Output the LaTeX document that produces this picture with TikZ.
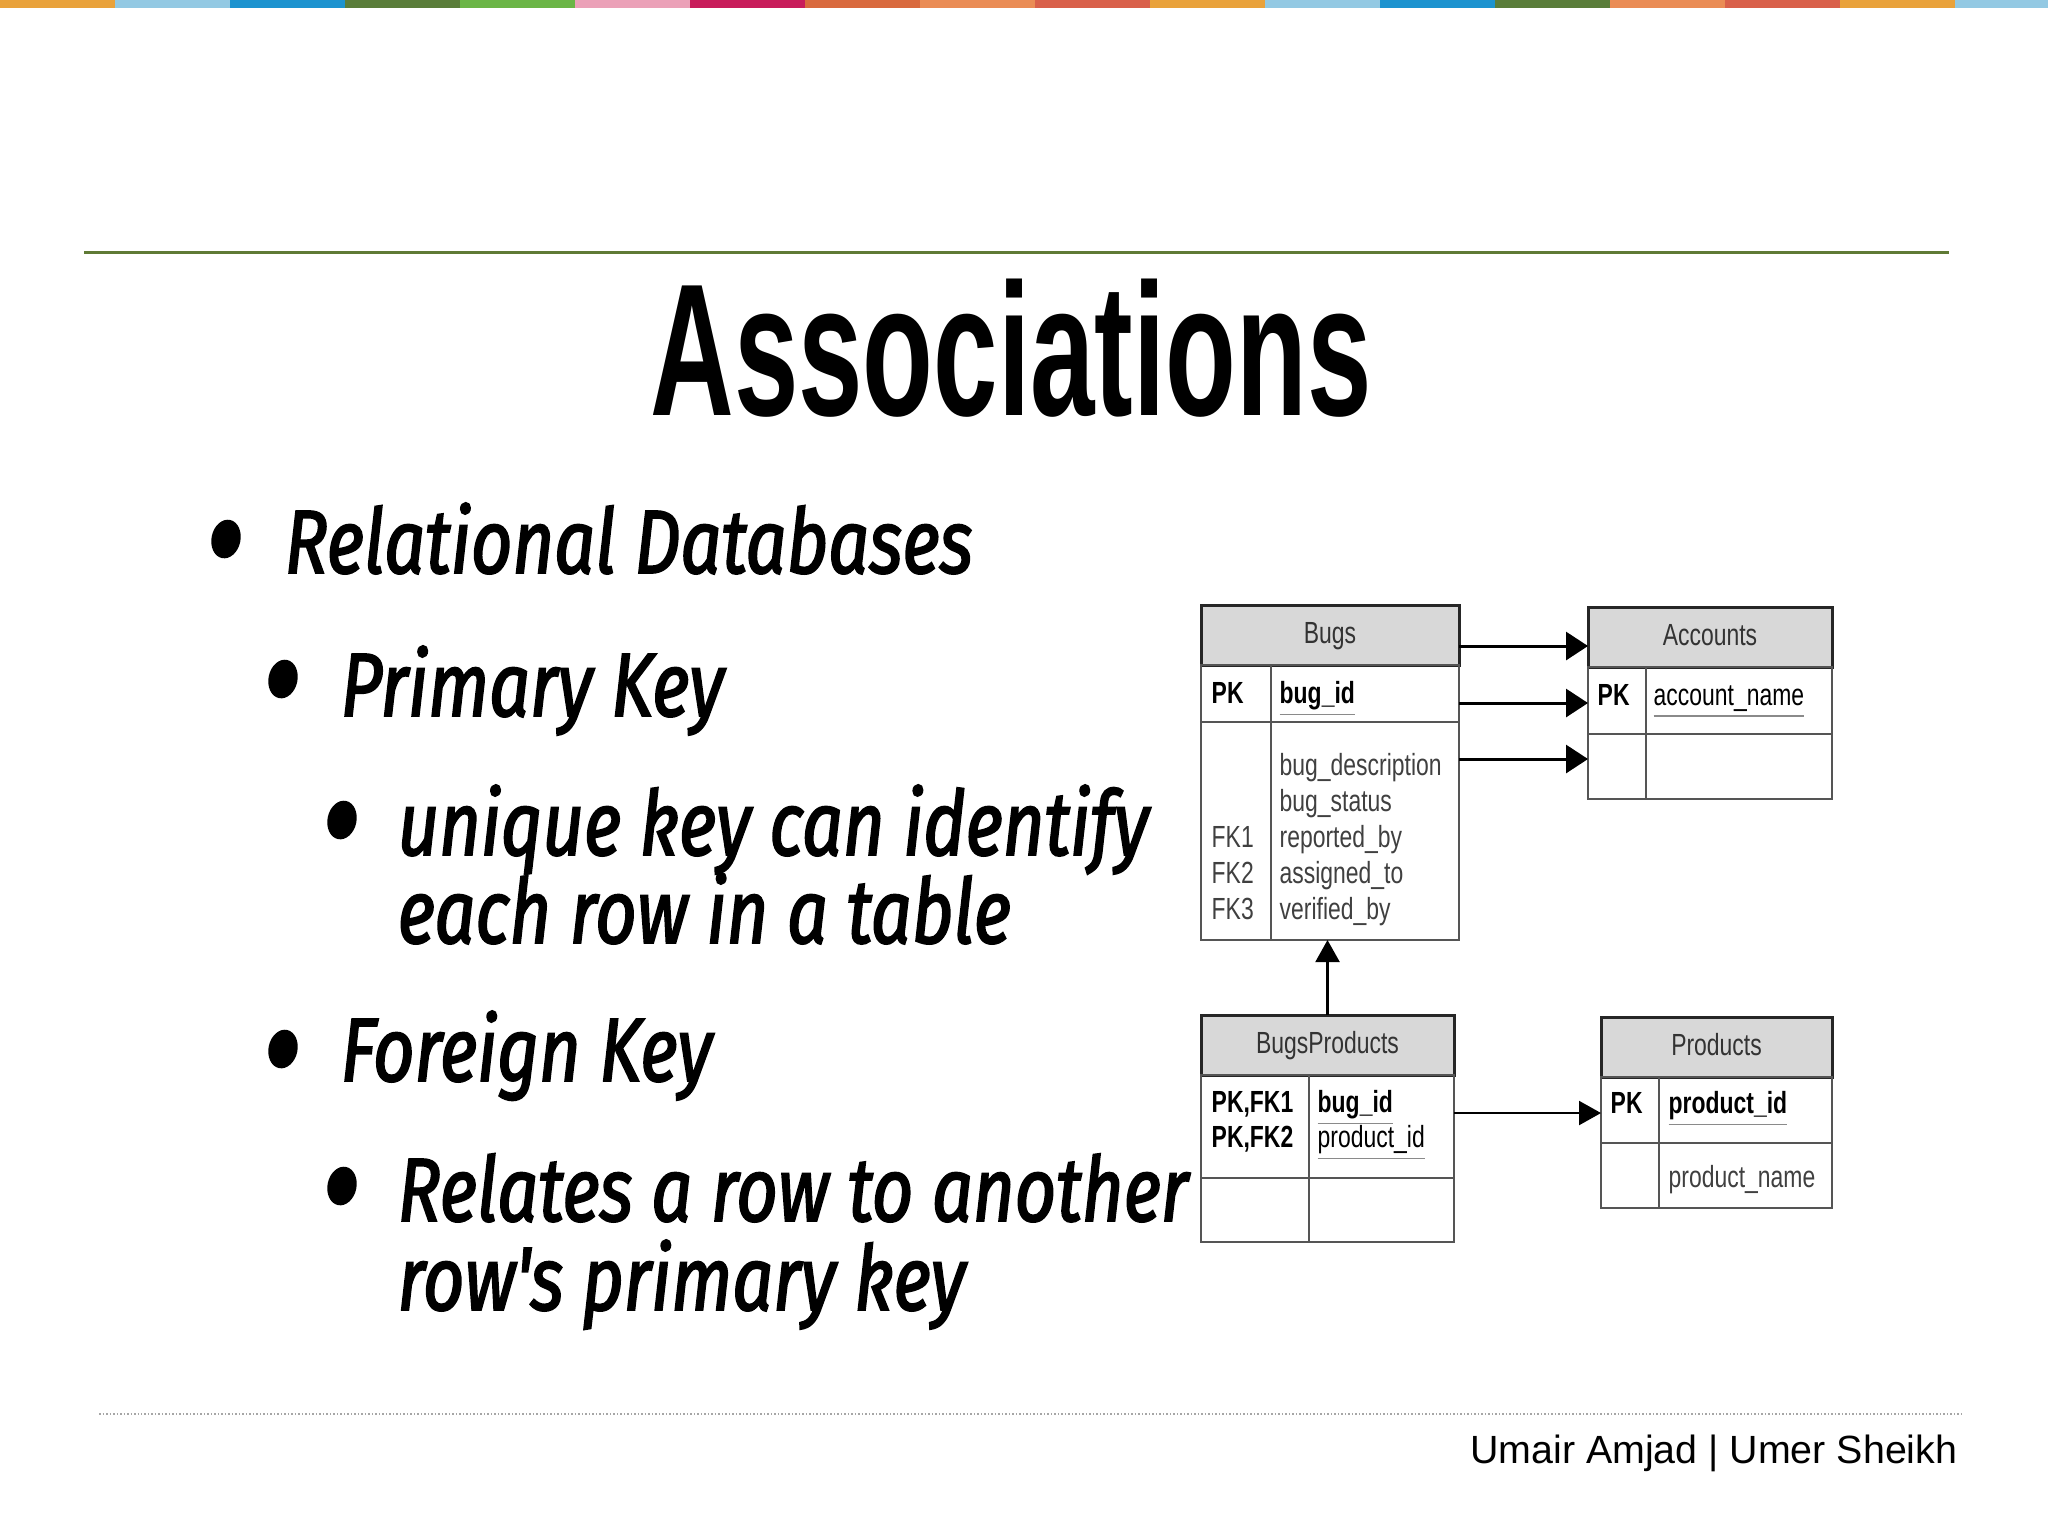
\documentclass[tikz,border=0pt]{standalone}
\usepackage{fontspec}
\usepackage{xcolor}
\usetikzlibrary{arrows.meta, positioning, shapes.geometric, calc}
\newfontfamily\titlefont[FakeStretch=0.615]{Liberation Sans}
\newfontfamily\bulletfont[FakeStretch=0.80, FakeBold=2]{Fira Sans}
\newfontfamily\tablefont[FakeStretch=0.75]{Liberation Sans}
\newfontfamily\footfont{Liberation Sans}
\definecolor{BarOrange}{HTML}{E9A23B}
\definecolor{BarSky}{HTML}{93C9E3}
\definecolor{BarBlue}{HTML}{1D93CF}
\definecolor{BarForest}{HTML}{5A7D3A}
\definecolor{BarGreen}{HTML}{6BB546}
\definecolor{BarPink}{HTML}{EBA1B8}
\definecolor{BarCrimson}{HTML}{C81D5B}
\definecolor{BarRust}{HTML}{D96A3E}
\definecolor{BarPeach}{HTML}{EA8C55}
\definecolor{BarRed}{HTML}{D9604A}
\definecolor{RuleOlive}{HTML}{5F7A35}
\definecolor{HeadGray}{HTML}{D8D8D8}
\definecolor{CellLine}{HTML}{555555}
\definecolor{KeyLine}{HTML}{8A8A8A}
\newcommand{\pkey}[1]{{\color{KeyLine}\underline{\textcolor{black}{#1}}}}
\tikzset{
    % Text styles
    titletext/.style={
        font=\titlefont\bfseries\fontsize{53.6}{60}\selectfont,
        inner sep=0
    },
    bullettext/.style={
        font=\bulletfont\itshape\fontsize{25.6}{30}\selectfont,
        inner sep=0,
        anchor=base west
    },
    bulletdot/.style={
        ellipse,
        fill=black,
        minimum width=2.9mm,
        minimum height=3.9mm,
        inner sep=0,
        rotate=-12
    },
    % Table styles
    tblhead/.style={
        rectangle,
        draw=black!85,
        fill=HeadGray,
        line width=0.3mm,
        minimum height=6mm,
        inner sep=0,
        outer sep=0,
        text height=2.2mm,
        text depth=0.6mm,
        font=\tablefont\fontsize{8.7}{10}\selectfont,
        text=black!80
    },
    tblcell/.style={
        rectangle,
        draw=CellLine,
        line width=0.25mm,
        inner sep=0,
        outer sep=0,
        anchor=north west
    },
    keytxt/.style={
        font=\tablefont\bfseries\fontsize{8.7}{10}\selectfont,
        inner sep=0,
        anchor=base west
    },
    fieldtxt/.style={
        font=\tablefont\fontsize{8.7}{10}\selectfont,
        text=black!75,
        inner sep=0,
        anchor=base west
    },
    % Arrow styles
    fkarrow/.style={
        -{Triangle[length=2.2mm,width=2.8mm]},
        line width=0.3mm,
        black
    },
    thinarrow/.style={
        -{Triangle[length=2.2mm,width=2.4mm]},
        line width=0.22mm,
        black
    },
    foottext/.style={
        font=\footfont\fontsize{11.2}{13}\selectfont,
        inner sep=0,
        anchor=base east
    }
}
\begin{document}
\begin{tikzpicture}[x=0.1mm,y=-0.1mm]
    \useasboundingbox (0,0) rectangle (2048,1536);
    \fill[white] (0,0) rectangle (2048,1536);

    % Colour bar
    \foreach \c [count=\i from 0] in {BarOrange,BarSky,BarBlue,BarForest,BarGreen,BarPink,BarCrimson,BarRust,BarPeach,BarRed,BarOrange,BarSky,BarBlue,BarForest,BarPeach,BarRed,BarOrange,BarSky}
        \fill[\c] ({\i*115},0) rectangle ++(115,8);

    % Rules
    \draw[RuleOlive, line width=0.3mm] (84,252) -- (1949,252);
    \draw[black!35, line width=0.15mm, dash pattern=on 0.15mm off 0.2mm] (99,1414) -- (1962,1414);

    % Title
    \node[titletext, anchor=base] (title) at (1011,415) {Associations};

    % Bullets
    \node[bulletdot] (b1) at (226,539) {};
    \node[bullettext] (t1) at (284,573) {Relational Databases};
    \node[bulletdot] (b2) at (283,679) {};
    \node[bullettext] (t2) at (340,716) {Primary Key};
    \node[bulletdot] (b3) at (342,820) {};
    \node[bullettext] (t3a) at (397,855) {unique key can identify};
    \node[bullettext] (t3b) at (397,943) {each row in a table};
    \node[bulletdot] (b4) at (283,1049) {};
    \node[bullettext] (t4) at (340,1081) {Foreign Key};
    \node[bulletdot] (b5) at (342,1186) {};
    \node[bullettext] (t5a) at (397,1221) {Relates a row to another};
    \node[bullettext] (t5b) at (397,1310) {row's primary key};

    % Bugs
    \node[tblhead, minimum width=25.8mm] (bugsH) at (1330,635) {Bugs};
    \node[tblcell, minimum width=7mm, minimum height=5.7mm] (bugsK1) at (bugsH.south west) {};
    \node[tblcell, minimum width=18.8mm, minimum height=5.7mm] (bugsF1) at (bugsK1.north east) {};
    \node[tblcell, minimum width=7mm, minimum height=21.8mm] (bugsK2) at (bugsK1.south west) {};
    \node[tblcell, minimum width=18.8mm, minimum height=21.8mm] (bugsF2) at (bugsK2.north east) {};
    \node[keytxt] (bugsPK) at (1211,703) {PK};
    \node[keytxt] (bugsId) at (1279,703) {\pkey{bug\_id}};
    \foreach \f [count=\i from 0] in {bug\_description, bug\_status, reported\_by, assigned\_to, verified\_by}
        \node[fieldtxt] (bugsT\i) at (1279,{775+36*\i}) {\f};
    \foreach \k [count=\i from 2] in {FK1, FK2, FK3}
        \node[fieldtxt] (bugsFK\i) at (1211,{775+36*\i}) {\k};

    % Accounts
    \node[tblhead, minimum width=24.4mm] (acctH) at (1710,637) {Accounts};
    \node[tblcell, minimum width=5.8mm, minimum height=6.7mm] (acctK1) at (acctH.south west) {};
    \node[tblcell, minimum width=18.6mm, minimum height=6.7mm] (acctF1) at (acctK1.north east) {};
    \node[tblcell, minimum width=5.8mm, minimum height=6.5mm] (acctK2) at (acctK1.south west) {};
    \node[tblcell, minimum width=18.6mm, minimum height=6.5mm] (acctF2) at (acctK2.north east) {};
    \node[keytxt] (acctPK) at (1597,705) {PK};
    \node[fieldtxt, text=black] (acctName) at (1653,705) {\pkey{account\_name}};

    % BugsProducts
    \node[tblhead, minimum width=25.3mm] (bpH) at (1327.5,1045) {BugsProducts};
    \node[tblcell, minimum width=10.8mm, minimum height=10.3mm] (bpK1) at (bpH.south west) {};
    \node[tblcell, minimum width=14.5mm, minimum height=10.3mm] (bpF1) at (bpK1.north east) {};
    \node[tblcell, minimum width=10.8mm, minimum height=6.4mm] (bpK2) at (bpK1.south west) {};
    \node[tblcell, minimum width=14.5mm, minimum height=6.4mm] (bpF2) at (bpK2.north east) {};
    \node[keytxt] (bpPK1) at (1211,1112) {PK,FK1};
    \node[keytxt] (bpPK2) at (1211,1147) {PK,FK2};
    \node[keytxt] (bpBug) at (1317,1112) {\pkey{bug\_id}};
    \node[fieldtxt, text=black] (bpProd) at (1317,1147) {\pkey{product\_id}};

    % Products
    \node[tblhead, minimum width=23.1mm] (prodH) at (1716.5,1047) {Products};
    \node[tblcell, minimum width=5.8mm, minimum height=6.6mm] (prodK1) at (prodH.south west) {};
    \node[tblcell, minimum width=17.3mm, minimum height=6.6mm] (prodF1) at (prodK1.north east) {};
    \node[tblcell, minimum width=5.8mm, minimum height=6.5mm] (prodK2) at (prodK1.south west) {};
    \node[tblcell, minimum width=17.3mm, minimum height=6.5mm] (prodF2) at (prodK2.north east) {};
    \node[keytxt] (prodPK) at (1610,1113) {PK};
    \node[keytxt] (prodId) at (1668,1113) {\pkey{product\_id}};
    \node[fieldtxt] (prodName) at (1668,1187) {product\_name};

    % Arrows
    \draw[fkarrow] ([yshift=-1.1mm]bugsH.east) -- ([yshift=-1.1mm]bugsH.east -| acctH.west);
    \draw[fkarrow] ([yshift=-0.95mm]bugsF1.east) -- ([yshift=-0.95mm]bugsF1.east -| acctK1.west);
    \draw[fkarrow] ([yshift=0.75mm]acctK2.west -| bugsF2.east) -- ([yshift=0.75mm]acctK2.west);
    \draw[thinarrow] ([yshift=-0.3mm]prodK1.west -| bpF1.east) -- ([yshift=-0.3mm]prodK1.west);
    \draw[thinarrow] (bpH.north) -- (bpH.north |- bugsK2.south);

    % Footer
    \node[foottext] (footer) at (1958,1463) {Umair Amjad | Umer Sheikh};
\end{tikzpicture}
\end{document}
